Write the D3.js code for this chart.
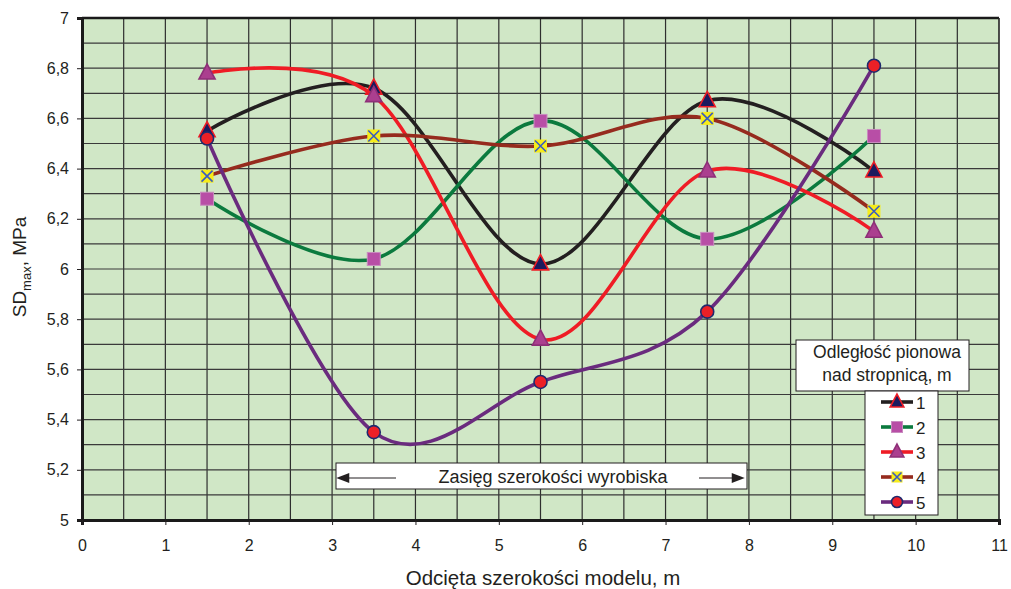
<!DOCTYPE html>
<html><head><meta charset="utf-8">
<script src="https://cdn.jsdelivr.net/npm/d3@7"></script>
<style>body{margin:0;background:#fff}svg{display:block;font-family:"Liberation Sans",Arial,sans-serif}</style>
</head><body>
<svg id="c" width="1011" height="589"></svg>
<script>
const xPos = [1.5, 3.5, 5.5, 7.5, 9.5];
const s1 = [6.55, 6.72, 6.02, 6.67, 6.39];
const s2 = [6.28, 6.04, 6.59, 6.12, 6.53];
const s3 = [6.78, 6.69, 5.72, 6.39, 6.15];
const s4 = [6.37, 6.53, 6.49, 6.60, 6.23];
const s5 = [6.52, 5.35, 5.55, 5.83, 6.81];
const seriesNames = ["1", "2", "3", "4", "5"];
const xTicks = [0,1,2,3,4,5,6,7,8,9,10,11];
const yTicks = [5,5.2,5.4,5.6,5.8,6,6.2,6.4,6.6,6.8,7];
const yTickLabels = ["5","5,2","5,4","5,6","5,8","6","6,2","6,4","6,6","6,8","7"];
const xTitle = "Odcięta szerokości modelu, m";
const legendTitle = ["Odległość pionowa", "nad stropnicą, m"];
const annotation = "Zasięg szerokości wyrobiska";
const rangeStart = 3.05, rangeEnd = 7.95;

const styles = [
  {line:"#231f20", marker:"tri", fill:"#1b1a5e", stroke:"#ee1c25"},
  {line:"#0b7a3e", marker:"sq", fill:"#b84ea6", stroke:"#c98cc0"},
  {line:"#ef1c25", marker:"tri", fill:"#ab3f8f", stroke:"#8e2f78"},
  {line:"#962b1e", marker:"x", fill:"#f6ec1a", stroke:"#3a5cc0"},
  {line:"#6a2b7e", marker:"circ", fill:"#ec2027", stroke:"#1f2a6e"}
];
const data = [s1,s2,s3,s4,s5];

const svg = d3.select("#c");
const L=82, R=999, T=18, B=520;
const x = d3.scaleLinear().domain([0,11]).range([L,R]);
const y = d3.scaleLinear().domain([5,7]).range([B,T]);

svg.append("rect").attr("x",L).attr("y",T).attr("width",R-L).attr("height",B-T).attr("fill","#d0e7c6");
// grid
const g = svg.append("g");
d3.range(0.5, 11.01, 0.5).forEach(v=>{
  g.append("line").attr("x1",x(v)).attr("x2",x(v)).attr("y1",T).attr("y2",B).attr("stroke","#2e2e2e").attr("stroke-width",1.2);
});
d3.range(5.1, 6.95, 0.1).forEach(v=>{
  g.append("line").attr("x1",L).attr("x2",R).attr("y1",y(v)).attr("y2",y(v)).attr("stroke","#3a3a3a").attr("stroke-width",1.2);
});
// frame
svg.append("line").attr("x1",L).attr("x2",R).attr("y1",T).attr("y2",T).attr("stroke","#1a1a1a").attr("stroke-width",2.5);
svg.append("line").attr("x1",R).attr("x2",R).attr("y1",T).attr("y2",B).attr("stroke","#2e2e2e").attr("stroke-width",1.2);

// axes
const yAxis = d3.axisLeft(y).tickValues(yTicks).tickFormat((d,i)=>yTickLabels[i]).tickSizeOuter(0).tickSize(5).tickPadding(8);
const ya = svg.append("g").attr("transform",`translate(${L},0)`).call(yAxis);
const xAxis = d3.axisBottom(x).tickValues(xTicks).tickFormat(d=>String(d)).tickSizeOuter(0).tickSize(5).tickPadding(15);
const xa = svg.append("g").attr("transform",`translate(0,${B})`).call(xAxis);
[ya,xa].forEach(a=>{
  a.selectAll("text").attr("font-size",16).attr("fill","#231f20").attr("font-family","Liberation Sans, Arial, sans-serif");
  a.selectAll("line").attr("stroke","#231f20");
  a.select(".domain").attr("stroke","#1a1a1a").attr("stroke-width",3);
});

// titles
svg.append("text").attr("x",543).attr("y",585).attr("text-anchor","middle").attr("font-size",20.5).attr("fill","#231f20").text(xTitle);
const yt = svg.append("text").attr("transform","translate(26,267) rotate(-90)").attr("text-anchor","middle").attr("font-size",19).attr("fill","#231f20");
yt.append("tspan").text("SD");
yt.append("tspan").attr("font-size",13).attr("dy",5).text("max");
yt.append("tspan").attr("dy",-5).text(", MPa");

// annotation
const ann = svg.append("g");
ann.append("rect").attr("x",336).attr("y",463).attr("width",411).attr("height",26).attr("fill","#fff").attr("stroke","#231f20").attr("stroke-width",1);
ann.append("text").attr("x",553).attr("y",482.5).attr("text-anchor","middle").attr("font-size",18).attr("fill","#231f20").text(annotation);
const ay = 478;
ann.append("line").attr("x1",x(rangeStart)+12).attr("x2",396).attr("y1",ay).attr("y2",ay).attr("stroke","#231f20").attr("stroke-width",1);
ann.append("path").attr("d",`M${x(rangeStart)},${ay} l13,-5 l0,10 z`).attr("fill","#231f20");
ann.append("line").attr("x1",699).attr("x2",x(rangeEnd)-12).attr("y1",ay).attr("y2",ay).attr("stroke","#231f20").attr("stroke-width",1);
ann.append("path").attr("d",`M${x(rangeEnd)},${ay} l-13,-5 l0,10 z`).attr("fill","#231f20");

function drawMarker(sel, st, cx, cy, s){
  const m = sel.append("g").attr("transform",`translate(${cx},${cy})`);
  if(st.marker==="tri"){
    m.append("path").attr("d",`M0,${-s*0.72} L${s*0.62},${s*0.45} L${-s*0.62},${s*0.45} Z`).attr("fill",st.fill).attr("stroke",st.stroke).attr("stroke-width",1.6).attr("stroke-linejoin","miter");
  } else if(st.marker==="sq"){
    m.append("rect").attr("x",-s/2).attr("y",-s/2).attr("width",s).attr("height",s).attr("fill",st.fill).attr("stroke",st.stroke).attr("stroke-width",1);
  } else if(st.marker==="x"){
    m.append("rect").attr("x",-s/2).attr("y",-s/2).attr("width",s).attr("height",s).attr("fill",st.fill);
    const h=s/2-1;
    m.append("path").attr("d",`M${-h},${-h}L${h},${h}M${-h},${h}L${h},${-h}`).attr("stroke",st.stroke).attr("stroke-width",1.6);
  } else {
    m.append("circle").attr("r",s/2).attr("fill",st.fill).attr("stroke",st.stroke).attr("stroke-width",1.6);
  }
}

const line = d3.line().x(d=>x(d[0])).y(d=>y(d[1])).curve(d3.curveCardinal.tension(0));
data.forEach((vals,i)=>{
  const st = styles[i];
  const pts = xPos.map((xv,j)=>[xv, vals[j]]);
  const sg = svg.append("g");
  sg.append("path").attr("d",line(pts)).attr("fill","none").attr("stroke",st.line).attr("stroke-width",3.6).attr("stroke-linecap","round");
  pts.forEach(p=>drawMarker(sg, st, x(p[0]), y(p[1]), 13));
});

// legend
const lg = svg.append("g");
lg.append("rect").attr("x",796).attr("y",340).attr("width",173).attr("height",51).attr("fill","#fff").attr("stroke","#231f20").attr("stroke-width",1);
lg.append("text").attr("x",887).attr("y",358).attr("text-anchor","middle").attr("font-size",17.5).attr("fill","#231f20").text(legendTitle[0]);
lg.append("text").attr("x",887).attr("y",381).attr("text-anchor","middle").attr("font-size",17.5).attr("fill","#231f20").text(legendTitle[1]);
lg.append("rect").attr("x",865).attr("y",391).attr("width",73).attr("height",124).attr("fill","#fff").attr("stroke","#231f20").attr("stroke-width",1);
seriesNames.forEach((n,i)=>{
  const st = styles[i];
  const ly = 402 + i*25;
  lg.append("line").attr("x1",881).attr("x2",913).attr("y1",ly).attr("y2",ly).attr("stroke",st.line).attr("stroke-width",3.6);
  drawMarker(lg, st, 897, ly, 11);
  lg.append("text").attr("x",916).attr("y",ly+7).attr("font-size",17).attr("fill","#231f20").text(n);
});
</script>
</body></html>
